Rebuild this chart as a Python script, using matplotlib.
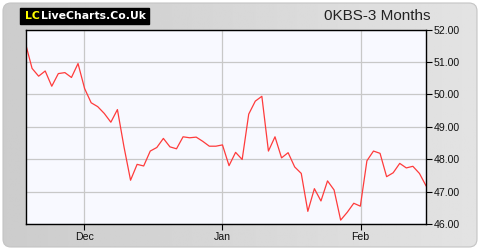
import numpy as np
import matplotlib.pyplot as plt
from matplotlib.patches import FancyBboxPatch

# closing prices, one per trading day
prices = [51.57, 50.80, 50.56, 50.72, 50.25, 50.64, 50.67, 50.52, 50.95, 50.18,
          49.74, 49.62, 49.41, 49.14, 49.53, 48.38, 47.35, 47.84, 47.79, 48.25,
          48.36, 48.64, 48.38, 48.32, 48.69, 48.66, 48.68, 48.55, 48.40, 48.40,
          48.44, 47.80, 48.21, 47.99, 49.39, 49.79, 49.94, 48.25, 48.69, 48.04,
          48.20, 47.76, 47.56, 46.39, 47.09, 46.71, 47.33, 47.05, 46.12, 46.36,
          46.64, 46.55, 47.95, 48.25, 48.18, 47.46, 47.58, 47.87, 47.73, 47.78,
          47.56, 47.18]
month_labels = ["Dec", "Jan", "Feb"]
month_pos = [8.94, 29.98, 51.03]
y_ticks = [46, 47, 48, 49, 50, 51, 52]
title = "0KBS-3 Months"

fig = plt.figure(figsize=(4.8, 2.5), dpi=100)
fig.patch.set_facecolor("white")

# grey panel with rounded corners and a soft left-to-right gradient
bg = fig.add_axes([0, 0, 1, 1])
bg.set_axis_off()
bg.set_xlim(0, 480)
bg.set_ylim(0, 250)
grad = np.linspace(0.80, 0.89, 256).reshape(1, -1)
im = bg.imshow(grad, cmap="gray", vmin=0, vmax=1, extent=[0, 480, 0, 250],
               aspect="auto")
panel = FancyBboxPatch((3, 3), 474, 244, boxstyle="round,pad=0,rounding_size=8",
                       transform=bg.transData, facecolor="none",
                       edgecolor="#c4c4c4", lw=0.8)
bg.add_patch(panel)
im.set_clip_path(panel)

ax = fig.add_axes([25.5 / 480, 1 - 224 / 250, 400.5 / 480, 194.5 / 250])
ax.set_facecolor("#f8f9ff")
x = np.arange(len(prices))
ax.plot(x, prices, color="#ff3b3b", lw=0.9)

ax.set_xlim(0, len(prices) - 1)
ax.set_ylim(46, 52)
ax.set_yticks(y_ticks)
ax.set_yticklabels(["%.2f" % v for v in y_ticks])
ax.set_xticks(month_pos)
ax.set_xticklabels(month_labels)
ax.yaxis.tick_right()
ax.grid(True, color="#c8c8c8", lw=0.9)
ax.set_axisbelow(True)
for s in ax.spines.values():
    s.set_color("black")
    s.set_linewidth(1.0)
ax.tick_params(axis="both", direction="out", length=4, width=0.8,
               labelsize=7.6, colors="black", labelcolor="#111111", pad=1.5)
for lab in ax.get_xticklabels() + ax.get_yticklabels():
    lab.set_family("Liberation Sans")

# logo box
fig.patches.append(plt.Rectangle((20 / 480, 1 - 24 / 250), 128.5 / 480, 16 / 250,
                                 transform=fig.transFigure, color="black"))
fig.text(25 / 480, 1 - 16 / 250, "LC", color="#ffff00", fontsize=7.8,
         fontweight="bold", va="center", ha="left")
fig.text(40.5 / 480, 1 - 16 / 250, "LiveCharts.Co.Uk", color="white", fontsize=7.8,
         fontweight="bold", va="center", ha="left")

fig.text(377 / 480, 1 - 16 / 250, title, fontsize=11, family="Liberation Sans",
         color="#222222", ha="center", va="center")

fig.savefig("out.png", dpi=100, facecolor=fig.get_facecolor())
